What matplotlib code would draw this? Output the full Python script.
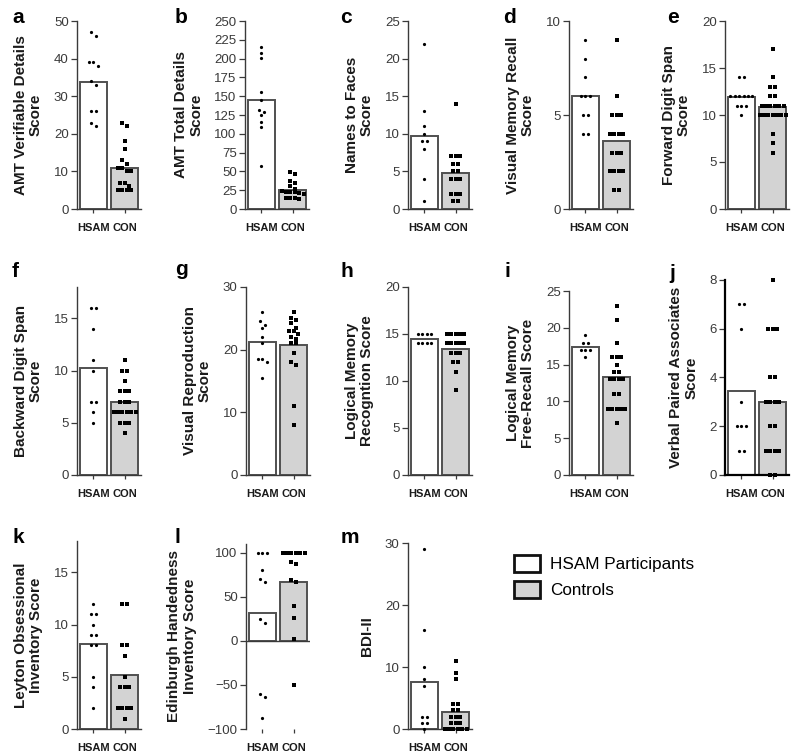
import matplotlib
matplotlib.use("Agg")
import matplotlib.pyplot as plt
from matplotlib.patches import Patch
import numpy as np

plt.rcParams['font.family'] = ['Liberation Sans', 'DejaVu Sans']

W, H = 800, 756
HSAM_FILL = 'white'
CON_FILL = '#d3d3d3'
EDGE = '#505050'
INK = '#3a3a3a'

# scores, one list per group and panel
a_hsam = [47, 46, 39, 39, 38, 34, 33, 26, 26, 23, 22]
a_con = [23, 22, 18, 16, 13, 12, 11, 11, 10, 10, 7, 7, 6, 5, 5, 5, 5]
b_hsam = [215, 207, 201, 156, 145, 131, 129, 125, 116, 109, 57]
b_con = [49, 47, 37, 35, 30, 26, 24, 23, 22, 22, 21, 20, 15, 15, 14, 13]
c_hsam = [22, 13, 11, 10, 9, 9, 8, 4, 1]
c_con = [14, 7, 7, 7, 6, 6, 5, 5, 4, 4, 4, 2, 2, 2, 1, 1]
d_hsam = [9, 8, 7, 6, 6, 6, 5, 5, 4, 4]
d_con = [9, 6, 5, 5, 5, 4, 4, 4, 4, 3, 3, 3, 2, 2, 2, 2, 1, 1]
e_hsam = [14, 14, 12, 12, 12, 12, 12, 12, 11, 11, 11, 10]
e_con = [17, 14, 13, 13, 12, 12, 11, 11, 11, 11, 11, 11,
         10, 10, 10, 10, 10, 10, 10, 8, 7, 6]
f_hsam = [16, 16, 14, 11, 10, 7, 7, 6, 5]
f_con = [11, 10, 10, 9, 8, 8, 8, 7, 7, 7, 6, 6, 6, 6, 6, 6, 5, 5, 5, 4]
g_hsam = [26, 24.5, 24, 23.5, 22, 21, 18.5, 18.5, 18, 15.5]
g_con = [26, 25, 24.8, 24.2, 23.5, 23, 23, 22.5, 22, 21.7, 21, 21,
         19.5, 18, 17.5, 11, 8]
h_hsam = [15, 15, 15, 15, 14, 14, 14, 14]
h_con = [15, 15, 15, 15, 15, 14, 14, 14, 14, 14, 13, 13, 13, 12, 12, 11, 9]
i_hsam = [19, 18, 18, 17, 17, 17, 16]
i_con = [23, 21, 18, 16, 16, 16, 15, 14, 14, 13, 13, 13, 13,
         11, 11, 9, 9, 9, 9, 9, 7]
j_hsam = [7, 7, 6, 3, 2, 2, 2, 1, 1]
j_con = [8, 6, 6, 6, 4, 4, 3, 3, 3, 3, 2, 2, 1, 1, 1, 1, 0, 0]
k_hsam = [12, 11, 11, 10, 9, 9, 8, 8, 5, 4, 2]
k_con = [12, 12, 8, 8, 7, 5, 4, 4, 4, 2, 2, 2, 2, 1]
l_hsam = [100, 100, 100, 80, 70, 67, 25, 20, -60, -64, -88]
l_con = [100, 100, 100, 100, 100, 100, 90, 87, 69, 67, 40, 26, 2, -50]
m_hsam = [29, 16, 10, 8, 7, 2, 2, 1, 1, 0]
m_con = [11, 9, 8, 4, 4, 3, 3, 2, 2, 2, 1, 1, 1, 0, 0, 0, 0, 0, 0]

groups = ['HSAM', 'CON']
legend_labels = ['HSAM Participants', 'Controls']

# letter, y label, data, y limits, y ticks
panels = [
    ('a', 'AMT Verifiable Details\nScore', a_hsam, a_con, (0, 50), range(0, 51, 10)),
    ('b', 'AMT Total Details\nScore', b_hsam, b_con, (0, 250), range(0, 251, 25)),
    ('c', 'Names to Faces\nScore', c_hsam, c_con, (0, 25), range(0, 26, 5)),
    ('d', 'Visual Memory Recall\nScore', d_hsam, d_con, (0, 10), range(0, 11, 5)),
    ('e', 'Forward Digit Span\nScore', e_hsam, e_con, (0, 20), range(0, 21, 5)),
    ('f', 'Backward Digit Span\nScore', f_hsam, f_con, (0, 18), range(0, 16, 5)),
    ('g', 'Visual Reproduction\nScore', g_hsam, g_con, (0, 30), range(0, 31, 10)),
    ('h', 'Logical Memory\nRecogntion Score', h_hsam, h_con, (0, 20), range(0, 21, 5)),
    ('i', 'Logical Memory\nFree-Recall Score', i_hsam, i_con, (0, 25), range(0, 26, 5)),
    ('j', 'Verbal Paired Associates\nScore', j_hsam, j_con, (0, 8), range(0, 9, 2)),
    ('k', 'Leyton Obsessional\nInventory Score', k_hsam, k_con, (0, 18), range(0, 16, 5)),
    ('l', 'Edinburgh Handedness\nInventory Score', l_hsam, l_con, (-100, 110), range(-100, 101, 50)),
    ('m', 'BDI-II', m_hsam, m_con, (0, 30), range(0, 31, 10)),
]

# axes boxes in pixels: spine x, top y, bottom y
boxes = {
    'a': (77, 21, 209), 'b': (245, 21, 209), 'c': (408, 21, 209),
    'd': (569, 21, 209), 'e': (725, 21, 209),
    'f': (77, 287, 475), 'g': (246, 287, 475), 'h': (408, 287, 475),
    'i': (569, 291, 475), 'j': (725, 280, 475),
    'k': (77, 541, 729), 'l': (246, 544, 729), 'm': (408, 543, 729),
}
# panel letter positions (x, baseline y) in pixels
letter_pos = {
    'a': (12, 23), 'b': (175, 23), 'c': (340, 23), 'd': (503, 23), 'e': (667, 23),
    'f': (12, 277), 'g': (175, 275), 'h': (341, 277), 'i': (504, 277), 'j': (669, 279),
    'k': (13, 543), 'l': (174, 543), 'm': (341, 543),
}
AX_W = 64
XLIM = (-0.52, 1.52)


def swarm(values, center, ylim, height_px, spacing=0.14, tol_px=4.5):
    """Spread points of (nearly) equal value side by side, like a column scatter."""
    tol = tol_px * (ylim[1] - ylim[0]) / height_px
    vals = sorted(values, reverse=True)
    xs, ys = [], []
    i = 0
    while i < len(vals):
        j = i
        while j < len(vals) and vals[i] - vals[j] <= tol:
            j += 1
        n = j - i
        for k, v in enumerate(vals[i:j]):
            xs.append(center + (k - (n - 1) / 2) * spacing)
            ys.append(v)
        i = j
    return xs, ys


fig = plt.figure(figsize=(W / 100, H / 100), dpi=100)

for letter, ylabel, hsam, con, ylim, yticks in panels:
    left, top, bottom = boxes[letter]
    ax = fig.add_axes([left / W, 1 - bottom / H, AX_W / W, (bottom - top) / H])
    means = [np.mean(hsam), np.mean(con)]
    ax.bar([0, 1], means, width=0.85, color=[HSAM_FILL, CON_FILL],
           edgecolor=EDGE, linewidth=1.4, zorder=1)
    height_px = bottom - top
    for pos, vals, marker, ms in [(0, hsam, 'o', 2.3), (1, con, 's', 2.2)]:
        xs, ys = swarm(vals, pos, ylim, height_px)
        ax.plot(xs, ys, linestyle='none', marker=marker, markersize=ms,
                color='black', markeredgewidth=0, zorder=3, clip_on=False)
    ax.set_xlim(*XLIM)
    ax.set_ylim(*ylim)
    ax.set_yticks(list(yticks))
    ax.set_xticks([0, 1])
    ax.set_xticklabels(groups, fontsize=8, fontweight='bold')
    ax.tick_params(axis='y', direction='out', length=4, width=0.9, colors=INK,
                   labelsize=9.5, pad=2)
    ax.tick_params(axis='x', direction='out', length=3, width=0.9, colors=INK, pad=7)
    for t in ax.get_xticklabels():
        t.set_color('#1a1a1a')
    ax.spines['top'].set_visible(False)
    ax.spines['right'].set_visible(False)
    spine_w = 1.6 if letter == 'j' else 1.0
    spine_c = 'black' if letter == 'j' else INK
    for s in ('left', 'bottom'):
        ax.spines[s].set_linewidth(spine_w)
        ax.spines[s].set_color(spine_c)
    if letter == 'l':
        ax.spines['bottom'].set_visible(False)
        ax.axhline(0, color=INK, linewidth=1.0, zorder=2)
    ax.set_ylabel(ylabel, fontsize=11, fontweight='bold', labelpad=8,
                  linespacing=1.1, color='#1a1a1a')
    ax.patch.set_alpha(0)
    lx, ly = letter_pos[letter]
    fig.text(lx / W, 1 - ly / H, letter, fontsize=15, fontweight='bold',
             va='baseline', ha='left')

handles = [Patch(facecolor=HSAM_FILL, edgecolor='#111111', linewidth=2.0, label=legend_labels[0]),
           Patch(facecolor=CON_FILL, edgecolor='#111111', linewidth=2.0, label=legend_labels[1])]
fig.legend(handles=handles, loc='upper left', bbox_to_anchor=(514 / W, 1 - 555 / H),
           frameon=False, fontsize=12.3, handlelength=1.55, handleheight=1.15,
           handletextpad=0.55, labelspacing=0.5, borderpad=0, borderaxespad=0)

fig.savefig('out.png', dpi=100)
